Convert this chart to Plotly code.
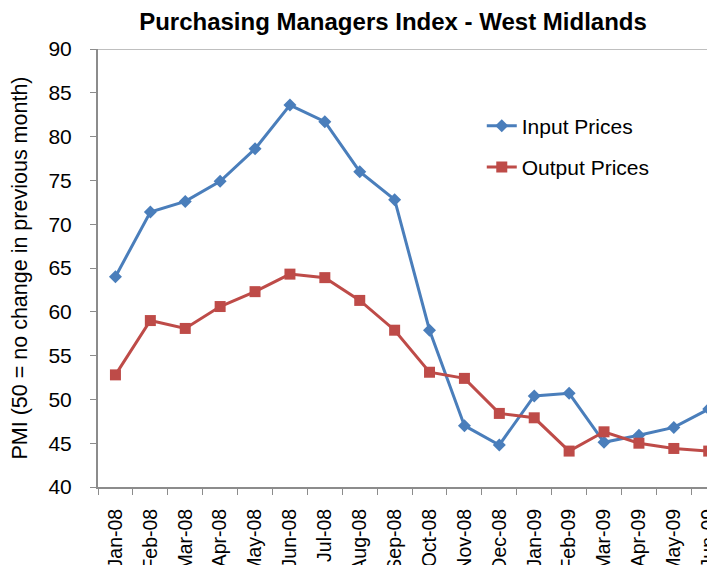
import plotly.graph_objects as go

months = ["Jan-08", "Feb-08", "Mar-08", "Apr-08", "May-08", "Jun-08",
          "Jul-08", "Aug-08", "Sep-08", "Oct-08", "Nov-08", "Dec-08",
          "Jan-09", "Feb-09", "Mar-09", "Apr-09", "May-09", "Jun-09"]
input_prices = [64.0, 71.4, 72.6, 74.9, 78.6, 83.6, 81.7, 76.0, 72.8,
                57.9, 47.0, 44.8, 50.4, 50.7, 45.1, 45.9, 46.8, 48.9]
output_prices = [52.8, 59.0, 58.1, 60.6, 62.3, 64.3, 63.9, 61.3, 57.9,
                 53.1, 52.4, 48.4, 47.9, 44.1, 46.3, 45.0, 44.4, 44.1]

FONT = "Liberation Sans, Arial, sans-serif"
BLUE = "#4A7EBB"
RED = "#BE4B48"

# the page body adds an 8px offset, so the figure is sized to the visible area
W, H = 707, 557

fig = go.Figure()
fig.add_trace(go.Scatter(
    x=months, y=input_prices, name="Input Prices", mode="lines+markers",
    legendgroup="a",
    line=dict(color=BLUE, width=3),
    marker=dict(symbol="diamond", size=10, color=BLUE),
))
fig.add_trace(go.Scatter(
    x=months, y=output_prices, name="Output Prices", mode="lines+markers",
    legendgroup="b",
    line=dict(color=RED, width=3),
    marker=dict(symbol="square", size=11, color=RED),
))

# light border line along the top of the plot area
fig.add_shape(type="line", xref="paper", yref="y", x0=0, x1=1, y0=90, y1=90,
              line=dict(color="#BFBFBF", width=2))

fig.update_layout(
    width=W, height=H,
    margin=dict(l=90, r=0, t=41, b=78),
    paper_bgcolor="white", plot_bgcolor="white",
    font=dict(family=FONT, size=21, color="black"),
    title=dict(text="<b>Purchasing Managers Index - West Midlands</b>",
               font=dict(size=24, family=FONT),
               x=385 / W, xanchor="center", y=1 - 14 / H, yanchor="middle"),
    showlegend=True,
    legend=dict(x=0.622, y=0.871, xanchor="left", yanchor="top",
                bgcolor="rgba(0,0,0,0)", font=dict(size=21),
                tracegroupgap=11, traceorder="grouped"),
)
fig.update_xaxes(
    type="category", range=[-0.5, 17.18], automargin=False,
    showgrid=False, showline=True, linecolor="#8C8C8C", linewidth=2,
    ticks="outside", tickson="boundaries", ticklen=6, tickcolor="#8C8C8C",
    tickangle=-90, tickfont=dict(size=19.5), ticklabelstandoff=12,
)
fig.update_yaxes(
    range=[40, 90], dtick=5, showgrid=False, zeroline=False, automargin=False,
    showline=True, linecolor="#8C8C8C", linewidth=2,
    ticks="outside", ticklen=6, tickcolor="#8C8C8C",
    tickfont=dict(size=21), ticklabelstandoff=14,
    title=dict(text="PMI (50 = no change in previous month)",
               font=dict(size=21.5), standoff=16),
)

fig.write_html("out.html")
